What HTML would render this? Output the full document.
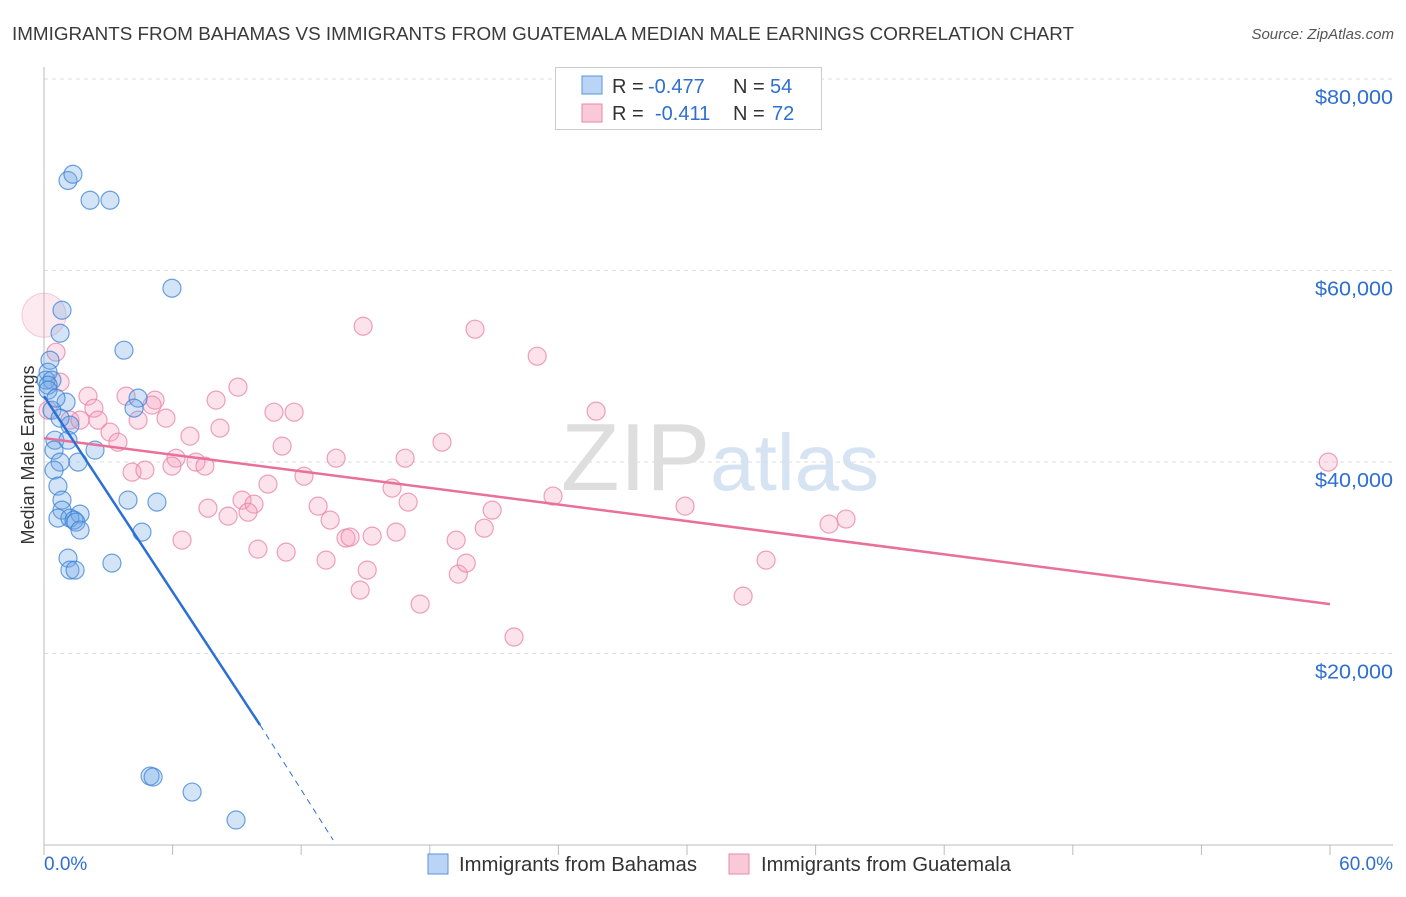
<!DOCTYPE html>
<html><head><meta charset="utf-8"><style>
body{margin:0;background:#fff;font-family:"Liberation Sans",sans-serif}
svg text{font-family:"Liberation Sans",sans-serif}
</style></head><body>
<svg id="chart" width="1406" height="892" xmlns="http://www.w3.org/2000/svg">
<text x="12" y="40" font-size="18" textLength="1062" lengthAdjust="spacingAndGlyphs" fill="#3a3a3a">IMMIGRANTS FROM BAHAMAS VS IMMIGRANTS FROM GUATEMALA MEDIAN MALE EARNINGS CORRELATION CHART</text>
<text x="1394" y="39" font-size="15" fill="#555" font-style="italic" text-anchor="end">Source: ZipAtlas.com</text>
<text x="720" y="490" font-size="96" fill="#e6e6e6" text-anchor="middle" font-family="Liberation Serif"><tspan fill="#dedede">ZIP</tspan><tspan fill="#d5e3f3" font-family="Liberation Sans" font-size="80">atlas</tspan></text>
<text transform="translate(34,455) rotate(-90)" font-size="18" fill="#333" text-anchor="middle">Median Male Earnings</text>
<g id="grid"></g><g id="axes"></g><g id="marks"></g>
<g>
<rect x="555.5" y="67.5" width="266" height="62" fill="#fff" stroke="#ccc"/>
<rect x="582" y="76" width="20" height="18" fill="#b9d4f5" stroke="#5a93dc"/>
<text x="612" y="93" font-size="20" fill="#333">R =</text>
<text x="648" y="93" font-size="20" fill="#2e6fd0">-0.477</text>
<text x="733" y="93" font-size="20" fill="#333">N =</text>
<text x="770" y="93" font-size="20" fill="#2e6fd0">54</text>
<rect x="582" y="104" width="20" height="18" fill="#f9c9d8" stroke="#e88aa8"/>
<text x="612" y="120" font-size="20" fill="#333">R =</text>
<text x="655" y="120" font-size="20" fill="#2e6fd0">-0.411</text>
<text x="733" y="120" font-size="20" fill="#333">N =</text>
<text x="772" y="120" font-size="20" fill="#2e6fd0">72</text>
</g>
<g>
<rect x="428" y="854" width="20" height="20" fill="#b9d4f5" stroke="#5a93dc"/>
<text x="459" y="871" font-size="20" textLength="238" lengthAdjust="spacingAndGlyphs" fill="#333">Immigrants from Bahamas</text>
<rect x="729" y="854" width="20" height="20" fill="#f9c9d8" stroke="#e88aa8"/>
<text x="761" y="871" font-size="20" textLength="250" lengthAdjust="spacingAndGlyphs" fill="#333">Immigrants from Guatemala</text>
</g>
</svg>
<script>
const yTicks=[20000,40000,60000,80000];
const yTickLabels=["$20,000","$40,000","$60,000","$80,000"];
const xTickLabels=["0.0%","60.0%"];
const bahamasX=[1.12,1.35,2.15,3.08,5.97,0.84,0.75,3.73,0.28,0.19,0.09,0.37,0.19,4.39,4.2,1.03,0.37,1.21,0.51,1.12,0.47,2.38,1.59,0.75,0.47,0.65,0.84,3.92,5.27,0.84,1.68,0.65,1.21,1.4,1.49,1.68,4.57,1.12,1.21,1.45,3.17,4.95,5.09,6.91,8.96,0.19,0.56,0.75];
const bahamasY=[69400,70050,67340,67340,58150,55850,53450,51680,50630,49380,48550,48550,48020,46670,45630,46250,45410,43850,42280,42280,41240,41240,39990,39990,39150,37480,36020,36020,35810,34970,34560,34140,34140,33930,33720,32890,32680,29960,28710,28710,29440,7200,7100,5530,2610,47500,46670,44580];
const guatX=[0.56,0.75,2.05,1.21,2.33,1.68,2.52,3.08,3.45,3.83,4.39,5.18,5.04,5.69,6.81,8.21,8.03,9.05,6.16,5.97,7.09,7.51,4.11,4.71,10.73,11.67,11.11,10.45,9.24,9.8,9.52,7.65,8.59,6.44,9.98,11.3,12.13,12.79,13.35,13.63,13.16,14.09,14.28,15.31,14.75,15.08,14.89,16.24,16.43,16.85,16.99,17.55,18.57,19.23,19.33,19.7,20.54,20.91,20.11,21.93,23.01,23.75,25.76,29.91,32.62,33.69,36.63,37.42,59.92,0.19];
const guatY=[51470,48340,46880,44370,45620,44370,44370,43120,42070,46880,44370,46460,45940,44580,42700,43540,46460,47820,40400,39570,39990,39570,38940,39150,45200,45200,41660,37690,36020,35600,34760,35180,34350,31840,30900,30590,38520,35390,33930,40400,29750,32050,32160,32260,26620,28710,54180,37270,32680,40400,35810,25160,42070,31840,28290,29440,33090,34970,53870,21720,51050,36440,45310,35390,25990,29750,33510,34040,39990,45410];
const bahamasTrend=[[0,46880],[10.08,12530],[13.49,520]];
const guatTrend=[[0,42490],[60,25160]];
const NS="http://www.w3.org/2000/svg";
const X0=44,X1=1330,Y0=845,PXPER20K=191.5;
const sx=v=>X0+(v/60)*(X1-X0);
const sy=v=>Y0-(v/20000)*PXPER20K;
function mk(tag,attrs,parent){const e=document.createElementNS(NS,tag);for(const k in attrs)e.setAttribute(k,attrs[k]);parent.appendChild(e);return e;}
const grid=document.getElementById('grid'),axes=document.getElementById('axes'),marks=document.getElementById('marks');
yTicks.forEach((t,i)=>{
 const l=mk('line',{x1:44,x2:1393,y1:sy(t),y2:sy(t),stroke:'#ddd','stroke-dasharray':'4,4'},grid);
 
 
 const tx=mk('text',{x:1393,y:sy(t)+25,'font-size':20,textLength:78,lengthAdjust:'spacingAndGlyphs',fill:'#2e6fd0','text-anchor':'end'},grid);
 tx.textContent=yTickLabels[i];
 
 
});
const ya=mk('line',{x1:44,x2:44,y1:67,y2:845,stroke:'#bbb'},axes);


const xa=mk('line',{x1:44,x2:1393,y1:845,y2:845,stroke:'#bbb'},axes);


for(let i=0;i<=10;i++){const t=mk('line',{x1:sx(i*6),x2:sx(i*6),y1:845,y2:855,stroke:'#bbb'},axes);
 
 }
const xl0=mk('text',{x:44,y:870,'font-size':19,fill:'#2e6fd0'},axes);xl0.textContent=xTickLabels[0];


const xl1=mk('text',{x:1393,y:870,'font-size':19,fill:'#2e6fd0','text-anchor':'end'},axes);xl1.textContent=xTickLabels[1];


const big=mk('circle',{cx:sx(0),cy:sy(55330),r:22,fill:'rgba(240,150,180,0.2)',stroke:'rgba(232,138,168,0.4)'},marks);


guatX.forEach((x,i)=>{const c=mk('circle',{cx:sx(x),cy:sy(guatY[i]),r:9,fill:'rgba(244,160,190,0.3)',stroke:'rgba(232,130,165,0.75)','stroke-width':1.2},marks);
 
 });
bahamasX.forEach((x,i)=>{const c=mk('circle',{cx:sx(x),cy:sy(bahamasY[i]),r:9,fill:'rgba(110,165,230,0.3)',stroke:'rgba(60,130,215,0.75)','stroke-width':1.2},marks);
 
 });
const pt=mk('line',{x1:sx(guatTrend[0][0]),y1:sy(guatTrend[0][1]),x2:sx(guatTrend[1][0]),y2:sy(guatTrend[1][1]),stroke:'#e8709a','stroke-width':2.5},marks);


const bt=mk('line',{x1:sx(bahamasTrend[0][0]),y1:sy(bahamasTrend[0][1]),x2:sx(bahamasTrend[1][0]),y2:sy(bahamasTrend[1][1]),stroke:'#2a6fd4','stroke-width':2.5},marks);


const bd=mk('line',{x1:sx(bahamasTrend[1][0]),y1:sy(bahamasTrend[1][1]),x2:sx(bahamasTrend[2][0]),y2:sy(bahamasTrend[2][1]),stroke:'#2a6fd4','stroke-width':1,'stroke-dasharray':'6,5'},marks);


</script>
</body></html>
